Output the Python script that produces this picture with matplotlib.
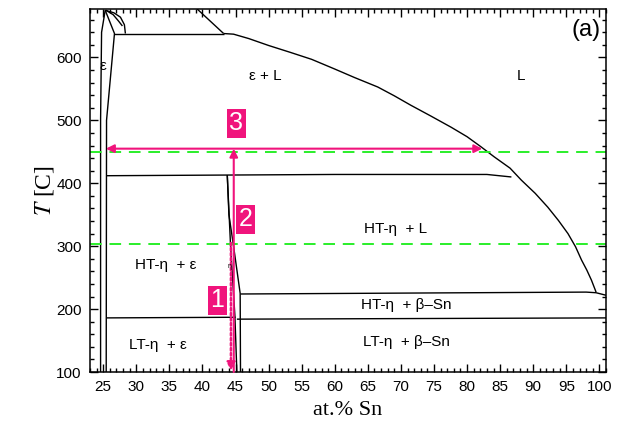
import matplotlib
matplotlib.use("Agg")
import matplotlib.pyplot as plt
from matplotlib.ticker import MultipleLocator

plt.rcParams["mathtext.fontset"] = "stix"

# ---- data (at.% Sn, T in C) ----
eps_left_x = [24.6, 24.6, 24.75, 25.3]
eps_left_T = [100, 500, 640, 675]
eps_right_x = [25.45, 25.5, 26.7, 25.3]
eps_right_T = [100, 500, 638, 675]
arc_x = [25.3, 26.6, 27.6, 28.2, 28.35]
arc_T = [675, 671, 664, 652, 638]
arc2_x = [25.4, 26.5, 27.3, 27.9]
arc2_T = [675, 668, 658, 650]
top_line_x = [26.7, 43.2]
top_line_T = [638, 638]
peri_x = [43.2, 39.2]
peri_T = [638, 677]
liq_x = [43.2, 44.7, 47.0, 50.0, 53.3, 56.5, 59.9, 63.0, 66.5, 69.0, 71.5, 74.5, 77.6,
         80.0, 82.1, 84.1, 86.5, 88.2, 90.3, 92.2, 93.8, 95.25, 96.4, 97.3, 98.1, 98.8, 99.5]
liq_T = [638, 637, 630, 619, 608, 597, 582, 568, 553, 539, 524, 507, 489,
         474, 458, 442, 424, 405, 384, 362, 341, 320, 299, 278, 262, 246, 227]
line415_x = [25.5, 60, 83, 86.7]
line415_T = [412, 414, 414, 410]
eta_left_x = [43.75, 44.25, 44.9, 45.2]
eta_left_T = [413, 300, 190, 100]
eta_right_x = [43.75, 44.0, 44.7, 45.7, 45.75]
eta_right_T = [413, 350, 300, 225, 100]
ltht_left_x = [25.5, 45.0]
ltht_left_T = [186, 187]
ltht_right_x = [45.2, 101]
ltht_right_T = [184, 186]
sn_line_x = [45.75, 98, 99.5, 101]
sn_line_T = [224, 227, 226, 222]

green_T = [450, 303]
arrow3_x = [25.4, 82.3]
arrow3_T = 455
arrow2_x = 44.73
arrow2_T = [100, 455]
arrow1_x = 44.3
arrow1_T = [305, 102]
num_labels = ["3", "2", "1"]
num_x = [45.08, 46.56, 42.25]
num_T = [495, 343, 214]

phase_labels = ["ε + L", "L", "ε", "HT-η  + ε", "LT-η  + ε", "HT-η  + L",
                "HT-η  + β–Sn", "LT-η  + β–Sn"]
phase_x = [49.5, 88.2, 25.0, 34.4, 33.2, 69.2, 70.8, 70.8]
phase_T = [571, 571, 587, 270, 143, 328, 206, 148]

MAG = "#f0147c"
GREEN = "#2aee2a"

fig = plt.figure(figsize=(6.19, 4.37), dpi=100)
ax = fig.add_axes([90/619, 65/437, 516/619, 363/437])

lw = 1.0
for xs, ts in [(eps_left_x, eps_left_T), (eps_right_x, eps_right_T), (arc_x, arc_T),
               (arc2_x, arc2_T), (top_line_x, top_line_T), (peri_x, peri_T),
               (liq_x, liq_T), (line415_x, line415_T), (eta_left_x, eta_left_T),
               (eta_right_x, eta_right_T), (ltht_left_x, ltht_left_T),
               (ltht_right_x, ltht_right_T), (sn_line_x, sn_line_T)]:
    ax.plot(xs, ts, color="black", lw=lw, solid_capstyle="butt")

for g in green_T:
    ax.axhline(g, color=GREEN, lw=1.4, dashes=(6, 4))

ax.annotate("", xy=(arrow3_x[0], arrow3_T), xytext=(arrow3_x[1], arrow3_T),
            arrowprops=dict(arrowstyle="<|-|>", color=MAG, lw=1.5,
                            mutation_scale=12, shrinkA=0, shrinkB=0))
ax.annotate("", xy=(arrow2_x, arrow2_T[1]), xytext=(arrow2_x, arrow2_T[0]),
            arrowprops=dict(arrowstyle="-|>", color=MAG, lw=1.5,
                            mutation_scale=12, shrinkA=0, shrinkB=0))
ax.annotate("", xy=(arrow1_x, arrow1_T[1]), xytext=(arrow1_x, arrow1_T[0]),
            arrowprops=dict(arrowstyle="-|>", color=MAG, lw=1.8, linestyle=(0, (1, 1)),
                            mutation_scale=12, shrinkA=0, shrinkB=0))

for s, x, t in zip(num_labels, num_x, num_T):
    ax.text(x, t, s, color="white", fontsize=18, family="Liberation Sans",
            ha="center", va="center",
            bbox=dict(boxstyle="square,pad=0.1", fc=MAG, ec="none"))

for s, x, t in zip(phase_labels, phase_x, phase_T):
    ax.text(x, t, s, fontsize=11, family="Liberation Sans", ha="center", va="center")
ax.text(44.15, 268, "η", fontsize=5, family="Liberation Sans", ha="center", va="center")
ax.text(98.0, 643, "(a)", fontsize=17, family="Liberation Sans", ha="center", va="center")

ax.set_xlim(23, 101)
ax.set_ylim(100, 677)
ax.xaxis.set_major_locator(MultipleLocator(5))
ax.xaxis.set_minor_locator(MultipleLocator(1))
ax.yaxis.set_major_locator(MultipleLocator(100))
ax.yaxis.set_minor_locator(MultipleLocator(20))
ax.tick_params(which="both", direction="in", top=True, right=True,
               labeltop=False, labelright=False, width=1.0)
ax.tick_params(which="major", length=6, labelsize=11, pad=6)
ax.tick_params(which="minor", length=3)
for lab in ax.get_xticklabels() + ax.get_yticklabels():
    lab.set_family("Liberation Sans")
for sp in ax.spines.values():
    sp.set_linewidth(1.1)

ax.set_xlabel("at.% Sn", fontsize=16, family="Liberation Serif", labelpad=5)
ax.set_ylabel(r"$T$ [C]", fontsize=17, family="Liberation Serif", labelpad=0)

fig.savefig("out.png", dpi=100)
